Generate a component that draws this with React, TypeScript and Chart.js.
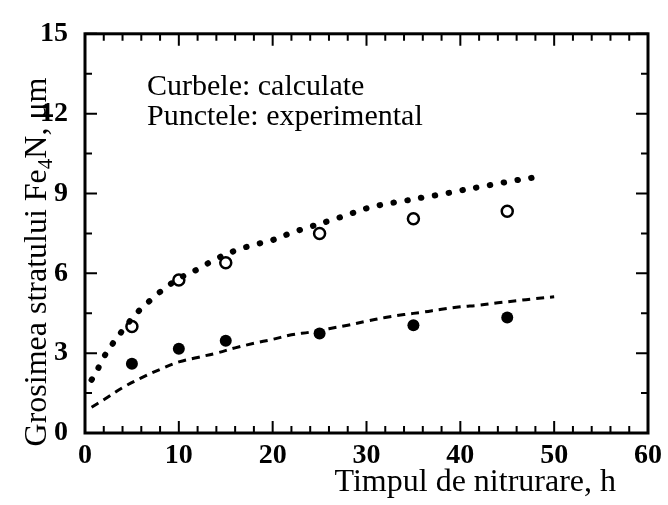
import React, { useEffect, useRef } from "react";
import { Chart, registerables } from "chart.js";

Chart.register(...registerables);

// Experimental points
const pointHours = [5, 10, 15, 25, 35, 45];
const openPoints = [4.0, 5.75, 6.4, 7.5, 8.05, 8.33];
const filledPoints = [2.6, 3.17, 3.47, 3.74, 4.05, 4.34];

// Calculated curves
const upperCurveX = [0.7, 1, 1.5, 2, 3, 4, 5, 6, 7, 8, 10, 12, 14, 16, 18, 20, 22, 24, 26, 28, 30, 32, 34, 36, 38, 40, 42, 44, 46, 48, 49];
const upperCurveY = [2.0, 2.13, 2.5, 2.85, 3.38, 3.85, 4.3, 4.68, 5.0, 5.3, 5.8, 6.15, 6.55, 6.85, 7.07, 7.25, 7.52, 7.75, 7.97, 8.2, 8.44, 8.6, 8.72, 8.85, 8.97, 9.11, 9.24, 9.37, 9.5, 9.61, 9.67];
const lowerCurveX = [0.7, 2, 4, 6, 8, 10, 12, 14, 16, 18, 20, 22, 24, 26, 28, 30, 32, 34, 36, 38, 40, 42, 44, 46, 48, 50];
const lowerCurveY = [0.97, 1.25, 1.7, 2.07, 2.39, 2.67, 2.84, 3.0, 3.2, 3.37, 3.52, 3.69, 3.79, 3.92, 4.05, 4.2, 4.34, 4.45, 4.54, 4.65, 4.74, 4.8, 4.89, 4.97, 5.05, 5.12];

// Axes
const xMin = 0, xMax = 60, xMajor = 10, xMinor = 2;
const yMin = 0, yMax = 15, yMajor = 3, yMinor = 1.5;

// Texts
const xTitle = "Timpul de nitrurare, h";
const yTitleParts = ["Grosimea stratului Fe", "4", "N, μm"];
const noteLines = ["Curbele: calculate", "Punctele: experimental"];

const SERIF = "'Liberation Serif', 'Times New Roman', serif";

const framePlugin = {
  id: "frameAndText",
  afterDraw(chart: any) {
    const { ctx, chartArea } = chart;
    const xs = chart.scales.x;
    const ys = chart.scales.y;
    const { left, right, top, bottom } = chartArea;
    ctx.save();
    ctx.strokeStyle = "#000";
    ctx.fillStyle = "#000";
    // ticks
    ctx.lineWidth = 2;
    for (let v = xMin; v <= xMax + 1e-9; v += xMinor) {
      const px = xs.getPixelForValue(v);
      const len = Math.abs(v % xMajor) < 1e-9 ? 12 : 7;
      ctx.beginPath();
      ctx.moveTo(px, bottom);
      ctx.lineTo(px, bottom - len);
      ctx.moveTo(px, top);
      ctx.lineTo(px, top + len);
      ctx.stroke();
    }
    for (let v = yMin; v <= yMax + 1e-9; v += yMinor) {
      const py = ys.getPixelForValue(v);
      const len = Math.abs(v % yMajor) < 1e-9 ? 12 : 7;
      ctx.beginPath();
      ctx.moveTo(left, py);
      ctx.lineTo(left + len, py);
      ctx.moveTo(right, py);
      ctx.lineTo(right - len, py);
      ctx.stroke();
    }
    // frame
    ctx.lineWidth = 3;
    ctx.strokeRect(left, top, right - left, bottom - top);

    // x title
    ctx.font = `32px ${SERIF}`;
    ctx.textAlign = "right";
    ctx.textBaseline = "alphabetic";
    ctx.fillText(xTitle, 616, 491);

    // y title with subscript
    const mainFont = `32px ${SERIF}`;
    const subFont = `21px ${SERIF}`;
    ctx.font = mainFont;
    const w0 = ctx.measureText(yTitleParts[0]).width;
    const w2 = ctx.measureText(yTitleParts[2]).width;
    ctx.font = subFont;
    const w1 = ctx.measureText(yTitleParts[1]).width;
    const total = w0 + w1 + w2;
    ctx.translate(46, 262);
    ctx.rotate(-Math.PI / 2);
    ctx.textAlign = "left";
    let cx = -total / 2;
    ctx.font = mainFont;
    ctx.fillText(yTitleParts[0], cx, 0);
    cx += w0;
    ctx.font = subFont;
    ctx.fillText(yTitleParts[1], cx, 6);
    cx += w1;
    ctx.font = mainFont;
    ctx.fillText(yTitleParts[2], cx, 0);
    ctx.restore();

    // note text
    ctx.save();
    ctx.fillStyle = "#000";
    ctx.font = `30px ${SERIF}`;
    ctx.textAlign = "left";
    ctx.textBaseline = "alphabetic";
    ctx.fillText(noteLines[0], 147, 95);
    ctx.fillText(noteLines[1], 147, 125);
    ctx.restore();
  },
};

export default function App() {
  const canvasRef = useRef<HTMLCanvasElement | null>(null);

  useEffect(() => {
    document.body.style.margin = "0";
    const canvas = canvasRef.current;
    if (!canvas) return;
    const toXY = (xa: number[], ya: number[]) => xa.map((x, i) => ({ x, y: ya[i] }));
    const chart = new Chart(canvas, {
      type: "scatter",
      data: {
        datasets: [
          {
            type: "line",
            data: toXY(upperCurveX, upperCurveY),
            borderColor: "#000",
            borderWidth: 6,
            borderDash: [0.5, 13.5],
            borderCapStyle: "round",
            pointRadius: 0,
            tension: 0.4,
            fill: false,
          } as any,
          {
            type: "line",
            data: toXY(lowerCurveX, lowerCurveY),
            borderColor: "#000",
            borderWidth: 3,
            borderDash: [8, 6],
            borderCapStyle: "butt",
            pointRadius: 0,
            tension: 0.4,
            fill: false,
          } as any,
          {
            data: toXY(pointHours, openPoints),
            showLine: false,
            pointRadius: 5.5,
            pointBorderWidth: 2.5,
            pointBackgroundColor: "#fff",
            pointBorderColor: "#000",
          } as any,
          {
            data: toXY(pointHours, filledPoints),
            showLine: false,
            pointRadius: 6,
            pointBorderWidth: 0,
            pointBackgroundColor: "#000",
            pointBorderColor: "#000",
          } as any,
        ],
      },
      options: {
        animation: false,
        responsive: false,
        maintainAspectRatio: false,
        layout: { padding: { top: 25, right: 20, left: 0, bottom: 0 } },
        plugins: { legend: { display: false }, tooltip: { enabled: false } },
        scales: {
          x: {
            type: "linear",
            min: xMin,
            max: xMax,
            grid: { display: false, drawTicks: false },
            border: { display: false },
            ticks: {
              stepSize: xMajor,
              color: "#000",
              padding: 6,
              maxRotation: 0,
              font: { family: SERIF, size: 28, weight: "bold" },
            },
            afterFit: (s: any) => {
              s.height = 72;
            },
          },
          y: {
            type: "linear",
            min: yMin,
            max: yMax,
            grid: { display: false, drawTicks: false },
            border: { display: false },
            ticks: {
              stepSize: yMajor,
              color: "#000",
              padding: 17,
              font: { family: SERIF, size: 28, weight: "bold" },
            },
            afterFit: (s: any) => {
              s.width = 85;
            },
          },
        },
      } as any,
      plugins: [framePlugin],
    });
    return () => chart.destroy();
  }, []);

  return (
    <div style={{ width: 668, height: 505 }}>
      <canvas ref={canvasRef} width={668} height={505} style={{ display: "block" }} />
    </div>
  );
}
